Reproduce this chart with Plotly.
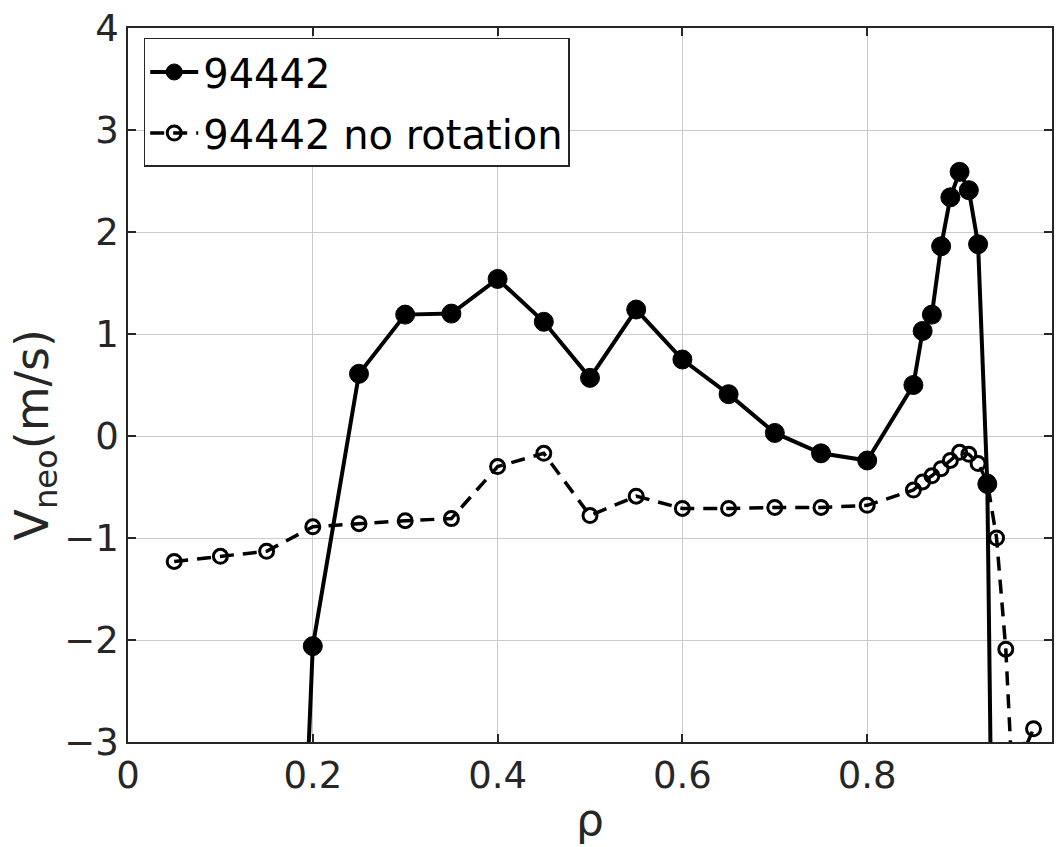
import plotly.graph_objects as go

# Series: 94442 (with rotation)
rho_rot = [0.15, 0.20, 0.25, 0.30, 0.35, 0.40, 0.45, 0.50, 0.55, 0.60, 0.65, 0.70,
           0.75, 0.80, 0.85, 0.86, 0.87, 0.88, 0.89, 0.90, 0.91, 0.92, 0.93, 0.94]
v_rot = [-13.0, -2.06, 0.61, 1.19, 1.20, 1.54, 1.12, 0.57, 1.24, 0.75, 0.41, 0.03,
         -0.17, -0.24, 0.50, 1.03, 1.19, 1.86, 2.34, 2.59, 2.41, 1.88, -0.47, -8.0]

# Series: 94442 no rotation
rho_norot = [0.05, 0.10, 0.15, 0.20, 0.25, 0.30, 0.35, 0.40, 0.45, 0.50, 0.55, 0.60,
             0.65, 0.70, 0.75, 0.80, 0.85, 0.86, 0.87, 0.88, 0.89, 0.90, 0.91, 0.92,
             0.93, 0.94, 0.95, 0.96, 0.97, 0.98]
v_norot = [-1.23, -1.18, -1.13, -0.89, -0.86, -0.83, -0.81, -0.30, -0.17, -0.78, -0.59, -0.71,
           -0.71, -0.70, -0.70, -0.68, -0.53, -0.45, -0.39, -0.32, -0.24, -0.16, -0.18, -0.27,
           -0.45, -1.00, -2.09, -3.90, -3.08, -2.87]

names = ["94442", "94442 no rotation"]
x_ticks = [0, 0.2, 0.4, 0.6, 0.8, 1]
x_ticklabels = ["0", "0.2", "0.4", "0.6", "0.8", "1"]
y_ticks = [-3, -2, -1, 0, 1, 2, 3, 4]

FONT = "DejaVu Sans"
AXC = "#262626"

fig = go.Figure()
fig.add_trace(go.Scatter(
    x=rho_rot, y=v_rot, name=names[0], mode="lines+markers", legendgroup="a",
    line=dict(color="black", width=4),
    marker=dict(symbol="circle", size=19, color="black", line=dict(color="black", width=1)),
))
fig.add_trace(go.Scatter(
    x=rho_norot, y=v_norot, name=names[1], mode="lines+markers", legendgroup="b",
    line=dict(color="black", width=3.5, dash="14px,9px"),
    marker=dict(symbol="circle-open", size=14, color="black", line=dict(color="black", width=3)),
))

fig.update_layout(
    width=1061, height=847,
    margin=dict(l=128, r=7, t=22, b=105),
    paper_bgcolor="white", plot_bgcolor="white",
    font=dict(family=FONT, color=AXC, size=37),
    showlegend=True,
    legend=dict(
        x=0.017, y=0.986, xanchor="left", yanchor="top",
        bgcolor="white", bordercolor=AXC, borderwidth=1.5,
        font=dict(family=FONT, size=40, color="black"),
        traceorder="grouped", tracegroupgap=6,
        itemwidth=48,
    ),
    xaxis=dict(
        range=[0, 1], tickvals=x_ticks, ticktext=x_ticklabels,
        showgrid=True, gridcolor="#cacaca", gridwidth=1,
        showline=True, linecolor=AXC, linewidth=1.5, mirror="ticks",
        ticks="inside", ticklen=8, tickcolor=AXC, tickwidth=1.5,
        tickfont=dict(family=FONT, size=37, color=AXC),
        zeroline=False,
        title=dict(text="ρ", font=dict(family=FONT, size=44, color=AXC), standoff=8),
    ),
    yaxis=dict(
        range=[-3, 4], tickvals=y_ticks,
        showgrid=True, gridcolor="#cacaca", gridwidth=1,
        showline=True, linecolor=AXC, linewidth=1.5, mirror="ticks",
        ticks="inside", ticklen=8, tickcolor=AXC, tickwidth=1.5,
        tickfont=dict(family=FONT, size=37, color=AXC),
        zeroline=False,
    ),
    annotations=[dict(
        text="V<sub>neo</sub>(m/s)", textangle=-90,
        xref="paper", yref="paper", x=-0.1, y=0.43,
        xanchor="center", yanchor="middle", showarrow=False,
        font=dict(family=FONT, size=46, color=AXC),
    )],
)

fig.write_html("out.html")
